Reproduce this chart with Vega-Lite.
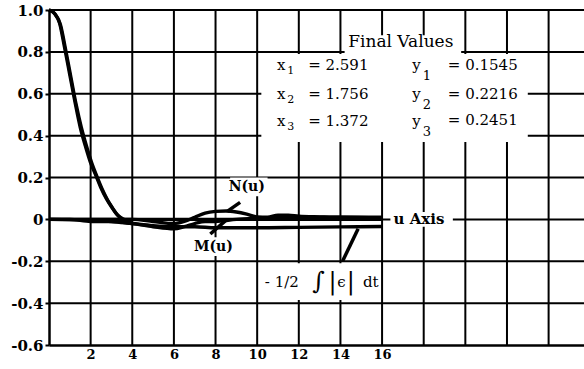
{
  "$schema": "https://vega.github.io/schema/vega-lite/v6.json",
  "width": 535,
  "height": 335,
  "autosize": "none",
  "padding": {"left": 49, "top": 10, "right": 0, "bottom": 24},
  "background": "white",
  "config": {
    "view": {"stroke": null},
    "axis": {
      "grid": false,
      "domainColor": "black", "domainWidth": 2.5,
      "labelFont": "DejaVu Serif", "labelFontWeight": "bold", "labelColor": "black",
      "title": null
    }
  },
  "datasets": {
    "vgrid": [{"x": 2}, {"x": 4}, {"x": 6}, {"x": 8}, {"x": 10}, {"x": 12}, {"x": 14}, {"x": 16}, {"x": 18}, {"x": 20}, {"x": 22}, {"x": 24}],
    "hgrid": [{"y": -0.4}, {"y": -0.2}, {"y": 0}, {"y": 0.2}, {"y": 0.4}, {"y": 0.6}, {"y": 0.8}, {"y": 1.0}],
    "curves": [
      {"s": "d1", "x": 0, "y": 1.0}, {"s": "d1", "x": 0.25, "y": 0.985}, {"s": "d1", "x": 0.5, "y": 0.94}, {"s": "d1", "x": 0.75, "y": 0.82}, {"s": "d1", "x": 1.0, "y": 0.69}, {"s": "d1", "x": 1.25, "y": 0.56}, {"s": "d1", "x": 1.5, "y": 0.44}, {"s": "d1", "x": 1.75, "y": 0.35}, {"s": "d1", "x": 2.0, "y": 0.27}, {"s": "d1", "x": 2.25, "y": 0.21}, {"s": "d1", "x": 2.5, "y": 0.15}, {"s": "d1", "x": 2.75, "y": 0.1}, {"s": "d1", "x": 3.0, "y": 0.06}, {"s": "d1", "x": 3.25, "y": 0.025}, {"s": "d1", "x": 3.5, "y": 0.002}, {"s": "d1", "x": 4.0, "y": -0.015},
      {"s": "d2", "x": 0, "y": 1.0}, {"s": "d2", "x": 0.3, "y": 0.98}, {"s": "d2", "x": 0.55, "y": 0.93}, {"s": "d2", "x": 0.8, "y": 0.81}, {"s": "d2", "x": 1.05, "y": 0.68}, {"s": "d2", "x": 1.3, "y": 0.55}, {"s": "d2", "x": 1.55, "y": 0.44}, {"s": "d2", "x": 1.8, "y": 0.35}, {"s": "d2", "x": 2.05, "y": 0.27}, {"s": "d2", "x": 2.3, "y": 0.205}, {"s": "d2", "x": 2.55, "y": 0.145}, {"s": "d2", "x": 2.8, "y": 0.095}, {"s": "d2", "x": 3.05, "y": 0.055}, {"s": "d2", "x": 3.3, "y": 0.02}, {"s": "d2", "x": 3.6, "y": 0.0}, {"s": "d2", "x": 4.0, "y": -0.01},
      {"s": "uaxis", "x": 0, "y": 0}, {"s": "uaxis", "x": 16, "y": 0},
      {"s": "integral", "x": 0, "y": 0}, {"s": "integral", "x": 2, "y": -0.005}, {"s": "integral", "x": 3, "y": -0.01}, {"s": "integral", "x": 4, "y": -0.02}, {"s": "integral", "x": 5, "y": -0.03}, {"s": "integral", "x": 6, "y": -0.035}, {"s": "integral", "x": 7, "y": -0.035}, {"s": "integral", "x": 8, "y": -0.04}, {"s": "integral", "x": 10, "y": -0.04}, {"s": "integral", "x": 12, "y": -0.038}, {"s": "integral", "x": 14, "y": -0.036}, {"s": "integral", "x": 16, "y": -0.034},
      {"s": "M", "x": 0, "y": 0}, {"s": "M", "x": 1, "y": 0}, {"s": "M", "x": 2, "y": -0.01}, {"s": "M", "x": 3, "y": -0.01}, {"s": "M", "x": 4, "y": -0.02}, {"s": "M", "x": 5, "y": -0.035}, {"s": "M", "x": 6, "y": -0.045}, {"s": "M", "x": 6.5, "y": -0.035}, {"s": "M", "x": 7, "y": -0.02}, {"s": "M", "x": 7.5, "y": -0.01}, {"s": "M", "x": 8, "y": -0.01}, {"s": "M", "x": 9, "y": 0.0}, {"s": "M", "x": 10, "y": 0.005}, {"s": "M", "x": 12, "y": 0.01}, {"s": "M", "x": 14, "y": 0.01}, {"s": "M", "x": 16, "y": 0.005},
      {"s": "N", "x": 0, "y": 0}, {"s": "N", "x": 4, "y": 0}, {"s": "N", "x": 5, "y": -0.01}, {"s": "N", "x": 6, "y": -0.02}, {"s": "N", "x": 6.5, "y": -0.01}, {"s": "N", "x": 7, "y": 0.01}, {"s": "N", "x": 7.5, "y": 0.03}, {"s": "N", "x": 8, "y": 0.038}, {"s": "N", "x": 8.5, "y": 0.04}, {"s": "N", "x": 9, "y": 0.035}, {"s": "N", "x": 9.5, "y": 0.025}, {"s": "N", "x": 10, "y": 0.012}, {"s": "N", "x": 10.5, "y": 0.01}, {"s": "N", "x": 11, "y": 0.02}, {"s": "N", "x": 11.5, "y": 0.02}, {"s": "N", "x": 12, "y": 0.015}, {"s": "N", "x": 13, "y": 0.012}, {"s": "N", "x": 14, "y": 0.01}, {"s": "N", "x": 16, "y": 0.01}
    ],
    "boxes": [
      {"x": 10.2, "x2": 23.0, "y": 0.37, "y2": 0.79},
      {"x": 14.2, "x2": 19.8, "y": 0.79, "y2": 0.88},
      {"x": 16.4, "x2": 19.4, "y": -0.035, "y2": 0.035},
      {"x": 10.3, "x2": 15.9, "y": -0.385, "y2": -0.21},
      {"x": 8.7, "x2": 10.5, "y": 0.11, "y2": 0.2},
      {"x": 6.9, "x2": 8.9, "y": -0.175, "y2": -0.085}
    ],
    "pointers": [
      {"x": 8.56, "y": 0.038, "x2": 9.18, "y2": 0.081},
      {"x": 7.75, "y": -0.07, "x2": 8.55, "y2": 0.0},
      {"x": 14.1, "y": -0.2, "x2": 14.85, "y2": -0.045}
    ],
    "leftText": [
      {"t": "x", "x": 10.95, "y": 0.735},
      {"t": "x", "x": 10.95, "y": 0.597},
      {"t": "x", "x": 10.95, "y": 0.469},
      {"t": "=  2.591", "x": 12.45, "y": 0.737},
      {"t": "=  1.756", "x": 12.45, "y": 0.599},
      {"t": "=  1.372", "x": 12.45, "y": 0.471},
      {"t": "y", "x": 17.45, "y": 0.737},
      {"t": "y", "x": 17.45, "y": 0.599},
      {"t": "y", "x": 17.45, "y": 0.471},
      {"t": "=   0.1545", "x": 19.16, "y": 0.739},
      {"t": "=   0.2216", "x": 19.16, "y": 0.601},
      {"t": "=   0.2451", "x": 19.16, "y": 0.473},
      {"t": "-  1/2", "x": 10.37, "y": -0.298},
      {"t": "dt", "x": 15.08, "y": -0.298},
      {"t": "ϵ", "x": 13.85, "y": -0.298}
    ],
    "xsubs": [
      {"t": "1", "x": 11.45, "y": 0.707},
      {"t": "2", "x": 11.45, "y": 0.569},
      {"t": "3", "x": 11.45, "y": 0.441}
    ],
    "ysubs": [
      {"t": "1", "x": 17.95, "y": 0.683},
      {"t": "2", "x": 17.95, "y": 0.545},
      {"t": "3", "x": 17.95, "y": 0.417}
    ],
    "bigGlyph": [
      {"t": "∫", "x": 12.95, "y": -0.298},
      {"t": "|", "x": 13.62, "y": -0.298},
      {"t": "|", "x": 14.5, "y": -0.298}
    ],
    "boldLabels": [
      {"t": "N(u)", "x": 9.5, "y": 0.155},
      {"t": "M(u)", "x": 7.9, "y": -0.132}
    ],
    "uaxis": [
      {"t": "u Axis", "x": 16.55, "y": 0.0}
    ],
    "title": [
      {"t": "Final Values", "x": 16.9, "y": 0.848}
    ]
  },
  "layer": [
    {
      "data": {"name": "vgrid"},
      "mark": {"type": "rule", "color": "black", "strokeWidth": 2},
      "encoding": {
        "x": {"field": "x", "type": "quantitative",
          "scale": {"domain": [0, 25.7], "nice": false, "zero": false},
          "axis": {"values": [2, 4, 6, 8, 10, 12, 14, 16], "ticks": false, "labelPadding": 3, "labelFontSize": 13}}
      }
    },
    {
      "data": {"name": "hgrid"},
      "mark": {"type": "rule", "color": "black", "strokeWidth": 2},
      "encoding": {
        "y": {"field": "y", "type": "quantitative",
          "scale": {"domain": [-0.6, 1.0], "nice": false, "zero": false},
          "axis": {"values": [-0.6, -0.4, -0.2, 0, 0.2, 0.4, 0.6, 0.8, 1.0], "ticks": true, "tickSize": 4, "tickWidth": 2, "tickColor": "black", "labelPadding": 2, "labelFontSize": 15, "labelExpr": "datum.value == 0 ? '0' : replace(format(datum.value, '.1f'), '\u2212', '-')"}}
      }
    },
    {
      "data": {"name": "boxes"},
      "mark": {"type": "rect", "fill": "white", "color": "white", "opacity": 1, "fillOpacity": 1},
      "encoding": {
        "x": {"field": "x", "type": "quantitative"},
        "x2": {"field": "x2"},
        "y": {"field": "y", "type": "quantitative"},
        "y2": {"field": "y2"}
      }
    },
    {
      "data": {"name": "curves"},
      "mark": {"type": "line", "color": "black", "strokeWidth": 3.4, "interpolate": "monotone"},
      "encoding": {
        "x": {"field": "x", "type": "quantitative"},
        "y": {"field": "y", "type": "quantitative"},
        "detail": {"field": "s"}
      }
    },
    {
      "data": {"name": "pointers"},
      "mark": {"type": "rule", "color": "black", "strokeWidth": 3.5},
      "encoding": {
        "x": {"field": "x", "type": "quantitative"},
        "y": {"field": "y", "type": "quantitative"},
        "x2": {"field": "x2"},
        "y2": {"field": "y2"}
      }
    },
    {
      "data": {"name": "leftText"},
      "mark": {"type": "text", "font": "DejaVu Serif", "fontSize": 15, "color": "black", "align": "left", "baseline": "middle"},
      "encoding": {
        "x": {"field": "x", "type": "quantitative"},
        "y": {"field": "y", "type": "quantitative"},
        "text": {"field": "t"}
      }
    },
    {
      "data": {"name": "xsubs"},
      "mark": {"type": "text", "font": "DejaVu Serif", "fontSize": 11, "color": "black", "align": "left", "baseline": "middle"},
      "encoding": {
        "x": {"field": "x", "type": "quantitative"},
        "y": {"field": "y", "type": "quantitative"},
        "text": {"field": "t"}
      }
    },
    {
      "data": {"name": "ysubs"},
      "mark": {"type": "text", "font": "DejaVu Serif", "fontSize": 13, "color": "black", "align": "left", "baseline": "middle"},
      "encoding": {
        "x": {"field": "x", "type": "quantitative"},
        "y": {"field": "y", "type": "quantitative"},
        "text": {"field": "t"}
      }
    },
    {
      "data": {"name": "bigGlyph"},
      "mark": {"type": "text", "font": "DejaVu Serif", "fontSize": 24, "color": "black", "align": "center", "baseline": "middle"},
      "encoding": {
        "x": {"field": "x", "type": "quantitative"},
        "y": {"field": "y", "type": "quantitative"},
        "text": {"field": "t"}
      }
    },
    {
      "data": {"name": "boldLabels"},
      "mark": {"type": "text", "font": "DejaVu Serif", "fontSize": 14, "fontWeight": "bold", "color": "black", "align": "center", "baseline": "middle"},
      "encoding": {
        "x": {"field": "x", "type": "quantitative"},
        "y": {"field": "y", "type": "quantitative"},
        "text": {"field": "t"}
      }
    },
    {
      "data": {"name": "uaxis"},
      "mark": {"type": "text", "font": "DejaVu Serif", "fontSize": 15, "fontWeight": "bold", "color": "black", "align": "left", "baseline": "middle"},
      "encoding": {
        "x": {"field": "x", "type": "quantitative"},
        "y": {"field": "y", "type": "quantitative"},
        "text": {"field": "t"}
      }
    },
    {
      "data": {"name": "title"},
      "mark": {"type": "text", "font": "DejaVu Serif", "fontSize": 17, "color": "black", "align": "center", "baseline": "middle"},
      "encoding": {
        "x": {"field": "x", "type": "quantitative"},
        "y": {"field": "y", "type": "quantitative"},
        "text": {"field": "t"}
      }
    }
  ]
}
